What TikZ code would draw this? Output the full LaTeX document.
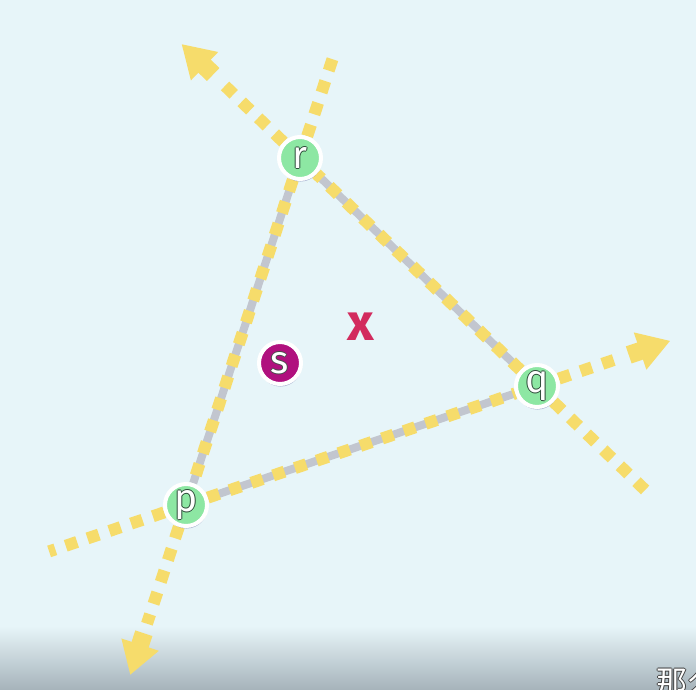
\documentclass[tikz,border=0pt]{standalone}
\usepackage{fontspec}
\newfontfamily\labelfont{Fira Sans}
\newfontfamily\cjk{Noto Sans CJK SC}
\usetikzlibrary{calc,shadows,arrows.meta}

\definecolor{paper}{HTML}{E7F5F9}
\definecolor{band}{HTML}{A7B4BB}
\definecolor{dotyellow}{HTML}{F6DC6B}
\definecolor{railgray}{HTML}{C2C6CF}
\definecolor{vertgreen}{HTML}{8DE7A3}
\definecolor{inkgreen}{HTML}{2F4D3B}
\definecolor{pointpink}{HTML}{B0107E}
\definecolor{crossred}{HTML}{D22B5E}

\pgfdeclarelayer{paperlayer}
\pgfdeclarelayer{linelayer}
\pgfsetlayers{paperlayer,linelayer,main}

% white letters with a thin dark rim
\newcommand\inked[2]{\leavevmode
  \rlap{\color{#1}\kern-.9pt#2}\rlap{\color{#1}\kern.9pt#2}%
  \rlap{\color{#1}\raisebox{.9pt}{#2}}\rlap{\color{#1}\raisebox{-.9pt}{#2}}#2}

\tikzset{
  vertex/.style={circle, fill=vertgreen, draw=white, line width=4pt,
    minimum size=42pt, inner sep=0pt, text=white,
    font=\labelfont\fontsize{39}{39}\selectfont,
    drop shadow={shadow xshift=.5pt, shadow yshift=-2.5pt, fill=black!60!blue, opacity=.3}},
  query/.style={vertex, fill=pointpink},
  cross/.style={inner sep=0pt, text=crossred,
    font=\labelfont\bfseries\fontsize{52}{52}\selectfont},
  dots/.style={draw=dotyellow, line width=12pt, dash pattern=on 12pt off 11pt},
  edgeline/.style={dots, preaction={draw=railgray, line width=8pt, solid}},
  tiparrow/.style={draw=dotyellow, line width=18pt,
    -{Triangle[width=37pt,length=32pt]}}
}

\begin{document}
\begin{tikzpicture}[x=1pt,y=-1pt]
  \useasboundingbox (0,0) rectangle (696,689);
  \begin{pgfonlayer}{paperlayer}
    \fill[paper] (0,0) rectangle (696,689);
    \shade[top color=paper, bottom color=band] (0,626) rectangle (696,689);
  \end{pgfonlayer}

  % triangle corners and the query point
  \node[vertex] (r) at (300,158) {\inked{inkgreen}{r}};
  \node[vertex] (q) at (537,386) {\inked{inkgreen}{q}};
  \node[vertex] (p) at (186,505) {\inked{inkgreen}{p}};
  \node[query] (s) at (280,363) {\inked{black!70}{s}};
  \node[cross] (xmark) at (361,327) {x};

  % ends of the rays
  \coordinate (tipQR) at ($(q)!1.50!(r)$);
  \coordinate (tipPQ) at ($(p)!1.38!(q)$);
  \coordinate (tipRP) at ($(r)!1.49!(p)$);
  \coordinate (endPR) at ($(p)!1.29!(r)$);
  \coordinate (endRQ) at ($(r)!1.46!(q)$);
  \coordinate (endQP) at ($(q)!1.39!(p)$);
  \coordinate (stemQR) at ($(tipQR)!44pt!(r)$);
  \coordinate (stemPQ) at ($(tipPQ)!44pt!(q)$);
  \coordinate (stemRP) at ($(tipRP)!44pt!(p)$);

  \begin{pgfonlayer}{linelayer}
    \draw[edgeline] (p) -- (q);
    \draw[edgeline] (q) -- (r);
    \draw[edgeline] (r) -- (p);

    \draw[dots] (r) -- (endPR);
    \draw[dots] (q) -- (endRQ);
    \draw[dots] (p) -- (endQP);

    \draw[dots] (r) -- ($(tipQR)!54pt!(r)$);
    \draw[dots] (q) -- ($(tipPQ)!54pt!(q)$);
    \draw[dots] (p) -- ($(tipRP)!54pt!(p)$);
    \draw[tiparrow] (stemQR) -- (tipQR);
    \draw[tiparrow] (stemPQ) -- (tipPQ);
    \draw[tiparrow] (stemRP) -- (tipRP);
  \end{pgfonlayer}

  \node[anchor=north west, inner sep=0pt, text=white] (caption) at (656,667)
    {\cjk\fontsize{31}{31}\selectfont\inked{black!75}{那么}};
\end{tikzpicture}
\end{document}
